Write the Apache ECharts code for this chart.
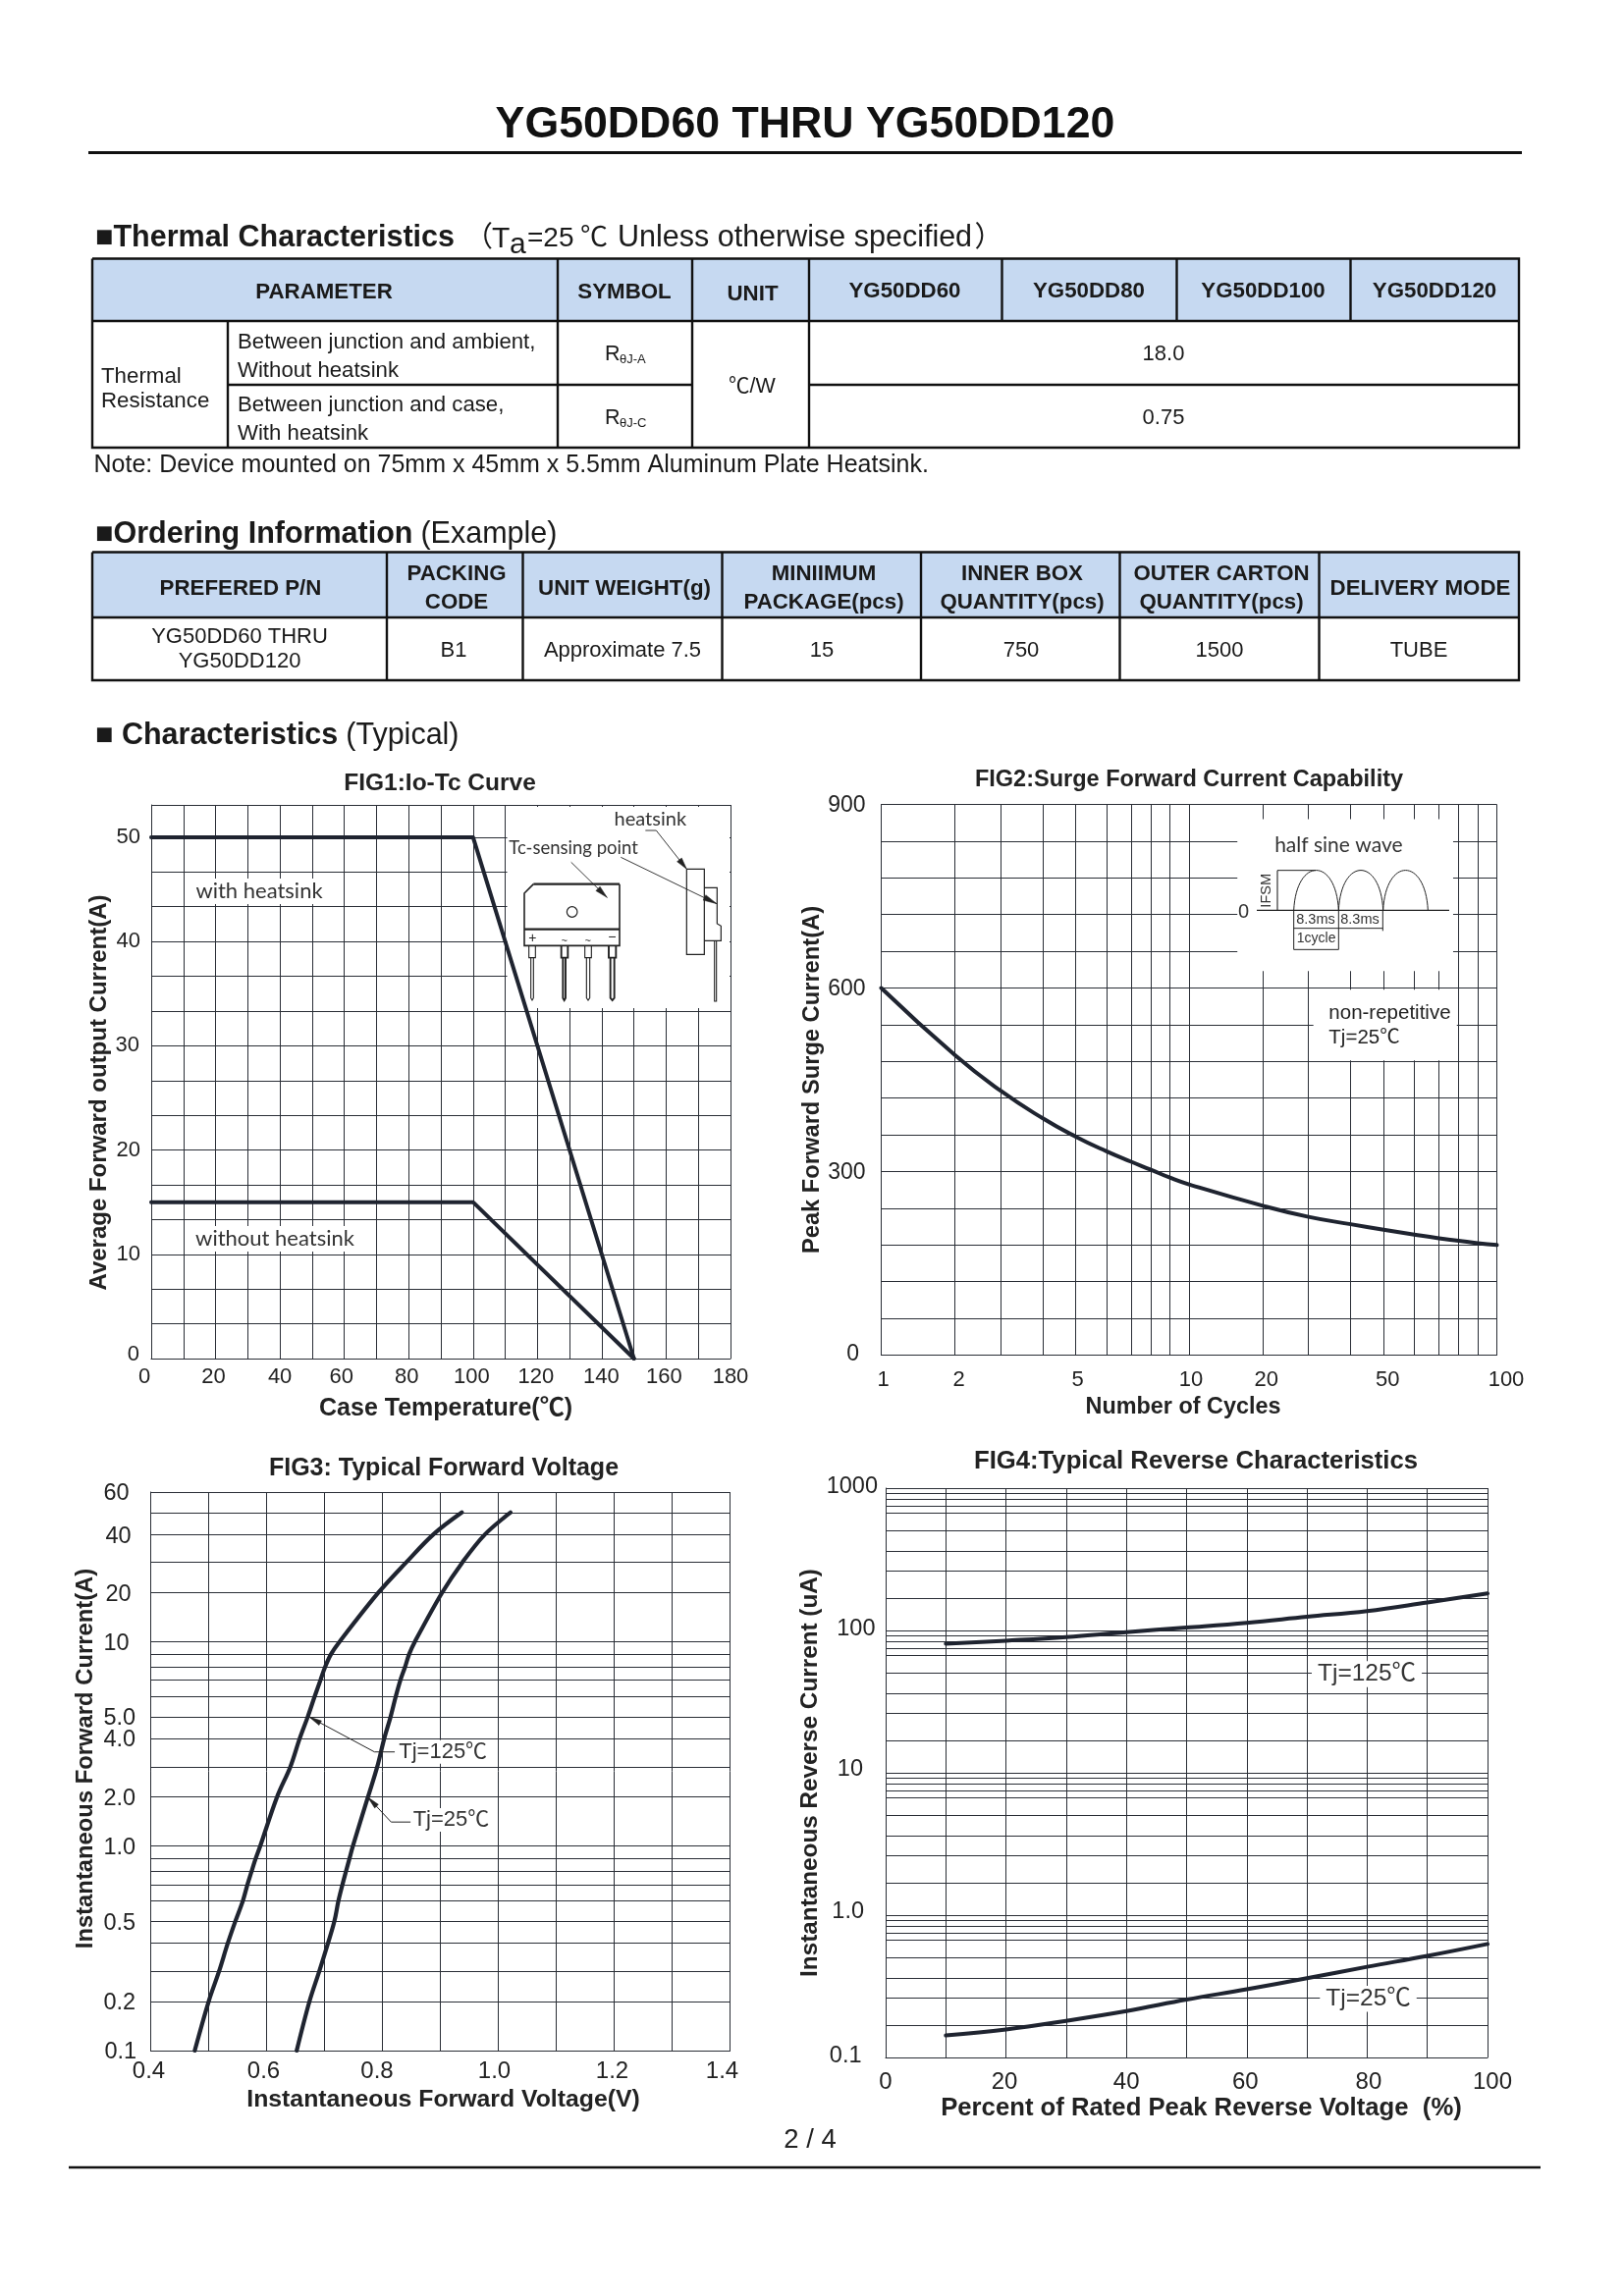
<!DOCTYPE html>
<html><head><meta charset="utf-8">
<style>html,body{margin:0;padding:0;background:#fff}#c{width:1654px;height:2339px}</style>
<script src="https://cdn.jsdelivr.net/npm/echarts@6/dist/echarts.min.js"></script>
</head><body><div id="c"></div>
<script>
// ---------- DATA ----------
const pageTitle = 'YG50DD60 THRU YG50DD120';
const thermalHeader = ['PARAMETER','SYMBOL','UNIT','YG50DD60','YG50DD80','YG50DD100','YG50DD120'];
const thermalRows = ['Between junction and ambient,','Without heatsink','Between junction and case,','With heatsink'];
const thermalValues = ['18.0','0.75'];
const orderingHeader = [['PREFERED P/N'],['PACKING','CODE'],['UNIT WEIGHT(g)'],['MINIIMUM','PACKAGE(pcs)'],['INNER BOX','QUANTITY(pcs)'],['OUTER CARTON','QUANTITY(pcs)'],['DELIVERY MODE']];
const orderingRow = [['YG50DD60 THRU','YG50DD120'],['B1'],['Approximate 7.5'],['15'],['750'],['1500'],['TUBE']];

// FIG1
const fig1Temp = [0,100,150];
const fig1WithHeatsink = [50,50,0];
const fig1WithoutHeatsink = [15,15,0];
const fig1TempTicks = [0,10,20,30,40,50,60,70,80,90,100,110,120,130,140,150,160,170,180];
const fig1TempLabels = [0,20,40,60,80,100,120,140,160,180];
const fig1CurrentLabels = [0,10,20,30,40,50];
// FIG2
const fig2Cycles = [1,2,3,4,5,6,7,8,9,10,20,30,40,50,60,70,80,90,100];
const fig2Surge = [600,490,432,387,357,333,316,303,290,279,244,226,214,205,197,191,187,183,180];
const fig2CycleLabels = [1,2,5,10,20,50,100];
const fig2SurgeLabels = [0,300,600,900];
// FIG3
const fig3Current = [0.1,0.2,0.3,0.4,0.5,0.6,0.7,0.8,0.9,1,2,3,4,5,6,7,8,9,10,20,30,40,50];
const fig3V125 = [.476,.500,.518,.533,.546,.559,.567,.574,.581,.589,.618,.641,.657,.671,.683,.693,.701,.711,.726,.793,.841,.888,.937];
const fig3V25 = [.652,.674,.691,.706,.717,.724,.731,.737,.743,.749,.775,.791,.803,.814,.823,.831,.839,.846,.856,.903,.938,.977,1.021];
const fig3CurrentTicks = [0.1,0.2,0.3,0.4,0.5,0.6,0.7,0.8,0.9,1,2,3,4,5,6,7,8,9,10,20,30,40,50,60];
const fig3CurrentLabels = ['0.1','0.2','0.5','1.0','2.0','4.0','5.0','10','20','40','60'];
const fig3VoltLabels = ['0.4','0.6','0.8','1.0','1.2','1.4'];
// FIG4
const fig4Percent = [10,20,30,40,50,60,70,80,90,100];
const fig4I125 = [77,82,88,97,109,124,143,161,188,219];
const fig4I25 = [.169,.188,.2175,.253,.295,.345,.4,.456,.511,.578];
const fig4CurrentTicks = [.1,.2,.3,.4,.5,.6,.7,.8,.9,1,2,3,4,5,6,7,8,9,10,20,30,40,50,60,70,80,90,100,200,300,400,500,600,700,800,900,1000];
const fig4CurrentLabels = ['0.1','1.0','10','100','1000'];
const fig4PercentLabels = [0,20,40,60,80,100];

// The printed "log" axes are not true logs: each decade's lines sit at these fractions.
const decadeFractionsA = [0,.24,.388,.525,.632,.732,.812,.876,.938,1]; // FIG2, FIG3
const decadeFractionsB = [0,.224,.416,.557,.70,.825,.876,.92,.962,1];   // FIG4
function warp(v, fr, firstExp){
  const e = Math.floor(Math.log10(v)+1e-9);
  const m = +(v/Math.pow(10,e)).toFixed(6);
  const i = Math.min(Math.floor(m),9);
  const f = fr[i-1]+(fr[i]-fr[i-1])*(m-i);
  return e-firstExp+f;
}

// ---------- STYLE ----------
const FF = "'Liberation Sans','Noto Sans CJK SC',sans-serif";
const INK = '#1f2430', GRID = '#2a2e36', HEAD = '#C6D9F1', SANS2 = "Lato,'Liberation Sans',sans-serif";
const g = [];
function txt(t,x,y,o={}){
  g.push({type:'text',z:o.z||20,silent:true,rotation:o.rot||0,x:x,y:y,style:{text:t,x:0,y:0,
    font:(o.b?'bold ':'')+(o.s||21)+'px '+(o.f||FF),fill:o.c||'#1a1a1a',align:o.a||'center',verticalAlign:'middle',
    backgroundColor:o.bg,padding:o.pad}});
}
function line(pts,w=1,c='#111',z=20){ g.push({type:'polyline',z:z,silent:true,shape:{points:pts},style:{stroke:c,lineWidth:w,fill:null}}); }
function fillPoly(pts,c='#111',z=20){ g.push({type:'polygon',z:z,silent:true,shape:{points:pts},style:{fill:c,stroke:c,lineWidth:.5}}); }
function arrow(x0,y0,x1,y1,len=10,hw=2.4,c='#222'){
  const d=Math.hypot(x1-x0,y1-y0),ux=(x1-x0)/d,uy=(y1-y0)/d;
  const bx=x1-ux*len,by=y1-uy*len;
  fillPoly([[x1,y1],[bx-uy*hw,by+ux*hw],[bx+uy*hw,by-ux*hw]],c,21);
}

// ---- page furniture ----
txt(pageTitle,820,127.5,{b:1,s:44.7,c:'#111'});
line([[90,155.5],[1550,155.5]],3);
line([[70,2208],[1569,2208]],2.5);
txt('2 / 4',825,2180.5,{s:27.5,c:'#222'});

// ---- thermal table ----
txt('■Thermal Characteristics',97,243,{b:1,s:30.5,a:'left'});
txt('（',473,243,{s:29,a:'left'});
txt('T',501,244,{s:30,a:'left'});
txt('a',519,250,{s:30,a:'left'});
txt('=25',537,243,{s:28,a:'left'});
txt('℃',591,243,{s:28,a:'left'});
txt('Unless otherwise specified',629,243,{s:30.5,a:'left'});
txt('）',992.5,243,{s:29,a:'left'});
const T1 = {l:94,r:1547,t:263.5,h:327,m:392,b:456};
g.push({type:'rect',z:5,silent:true,shape:{x:T1.l,y:T1.t,width:T1.r-T1.l,height:T1.h-T1.t},style:{fill:HEAD}});
line([[T1.l,T1.t],[T1.r,T1.t],[T1.r,T1.b],[T1.l,T1.b],[T1.l,T1.t]],2.4);
line([[T1.l,T1.h],[T1.r,T1.h]],2.4);
line([[232,T1.m],[705,T1.m]],2.4); line([[824,T1.m],[T1.r,T1.m]],2.4);
line([[232,T1.h],[232,T1.b]],2.4);
[568,705,824].forEach(x=>line([[x,T1.t],[x,T1.b]],2.4));
[1020.5,1198.5,1375.5].forEach(x=>line([[x,T1.t],[x,T1.h]],2.4));
[330,636,766.5,921.5,1109,1286.5,1461].forEach((x,i)=>txt(thermalHeader[i],x,i==2?299.5:(i>2?296.5:297.5),{b:1,s:22.3}));
txt('Thermal',103,383.5,{a:'left',s:22.3}); txt('Resistance',103,408.5,{a:'left',s:22.3});
[349,378,413,441.5].forEach((y,i)=>txt(thermalRows[i],242,y,{a:'left',s:22.2}));
txt('R',616,361.5,{a:'left',s:21.5}); txt('θJ-A',631,366.5,{a:'left',s:13});
txt('R',616,426.5,{a:'left',s:21.5}); txt('θJ-C',631,431.5,{a:'left',s:13});
txt('℃/W',766,394.5,{s:21.5});
txt(thermalValues[0],1185,360.5,{s:22}); txt(thermalValues[1],1185,425.5,{s:22});
txt('Note: Device mounted on 75mm x 45mm x 5.5mm Aluminum Plate Heatsink.',95.5,474,{a:'left',s:25});

// ---- ordering table ----
g.push({type:'text',z:20,silent:true,style:{text:'{b|■Ordering Information}{r|(Example)}',x:97,y:545,verticalAlign:'middle',
  rich:{b:{font:'bold 30.5px '+FF,fill:'#1a1a1a'},r:{font:'30.5px '+FF,fill:'#1a1a1a',padding:[0,0,0,8]}}}});
const T2 = {l:94,r:1547,t:562.5,h:629,b:693,cols:[394,532.5,735.5,938,1140.5,1343.5]};
g.push({type:'rect',z:5,silent:true,shape:{x:T2.l,y:T2.t,width:T2.r-T2.l,height:T2.h-T2.t},style:{fill:HEAD}});
line([[T2.l,T2.t],[T2.r,T2.t],[T2.r,T2.b],[T2.l,T2.b],[T2.l,T2.t]],2.4);
line([[T2.l,T2.h],[T2.r,T2.h]],2.4);
T2.cols.forEach(x=>line([[x,T2.t],[x,T2.b]],2.4));
[245,465,636,839,1041,1244,1446.5].forEach((x,i)=>{
  const h=orderingHeader[i];
  if(h.length==1) txt(h[0],x,599.5,{b:1,s:22.3});
  else { txt(h[0],x,584.5,{b:1,s:22.3}); txt(h[1],x,614,{b:1,s:22.3}); }
});
[244,462,634,837,1040,1242,1445].forEach((x,i)=>{
  const h=orderingRow[i];
  if(h.length==1) txt(h[0],x,662.5,{s:22});
  else { txt(h[0],x,649,{s:22}); txt(h[1],x,674,{s:22}); }
});
g.push({type:'text',z:20,silent:true,style:{text:'{b|■ Characteristics}{r|(Typical)}',x:97,y:749.5,verticalAlign:'middle',
  rich:{b:{font:'bold 30.5px '+FF,fill:'#1a1a1a'},r:{font:'30.5px '+FF,fill:'#1a1a1a',padding:[0,0,0,8]}}}});

// ---- FIG1 inset ----
const P1=(x,y)=>[500+x/3,810+y/3];
const L1=(a,w=1.2,c='#222')=>line(a.map(p=>P1(p[0],p[1])),w,c);
L1([[130,272],[393,272]],2.2);
L1([[130,272],[102,300],[102,460],[393,460],[393,272]],1.6);
L1([[102,410],[393,410]],2.4);
g.push({type:'circle',z:20,silent:true,shape:{cx:P1(248,0)[0],cy:P1(0,357)[1],r:5.3},style:{fill:null,stroke:'#222',lineWidth:1.2}});
[[116,136,122,130],[215,235,220,228],[287,307,292,302],[360,382,365,377]].forEach((a,i)=>{
  const w=i==0||i==2?1.1:1.9;
  L1([[a[0],460],[a[0],497],[a[1],497],[a[1],460]],w);
  L1([[a[2],497],[a[2],620],[(a[2]+a[3])/2,627],[a[3],620],[a[3],497]],w);
});
txt('+',P1(127,0)[0],P1(0,437)[1],{s:14,c:'#222'});
txt('~',P1(224,0)[0],P1(0,447)[1],{s:11,c:'#222'});
txt('~',P1(296,0)[0],P1(0,447)[1],{s:11,c:'#222'});
txt('−',P1(370,0)[0],P1(0,436)[1],{s:14,c:'#222'});
L1([[598,226],[652,226],[652,487],[598,487],[598,226]],1.2);
L1([[652,283],[691,283],[691,393],[703,400],[703,445],[652,445]],1.2);
L1([[683,445],[683,630],[689,630],[689,445]],1.1);
L1([[472,108],[505,108],[598,226]],.9);
arrow(...P1(572,193),...P1(598,226),12,3);
L1([[397,190],[690,332]],.9);
arrow(...P1(650,312),...P1(690,332),14,3);
L1([[245,205],[355,313]],.9);
arrow(...P1(322,281),...P1(355,313),13,3);
txt('heatsink',P1(487,0)[0],P1(0,73)[1],{s:20,f:SANS2,c:'#333'});
txt('Tc-sensing point',P1(252,0)[0],P1(0,163)[1],{s:18.5,f:SANS2,c:'#333'});

// ---- FIG2 inset ----
const P2=(x,y)=>[1240+x/3,830+y/3];
const L2=(a,w=1,c='#222')=>line(a.map(p=>P2(p[0],p[1])),w,c);
L2([[120,292],[708,292]],1.1);
[[233,370],[370,506],[506,643]].forEach(a=>{
  const s=P2(a[0],292),e=P2(a[1],292),c1=P2(a[0]+8,129),c2=P2(a[1]-8,129);
  g.push({type:'bezierCurve',z:20,silent:true,shape:{x1:s[0],y1:s[1],x2:e[0],y2:e[1],cpx1:c1[0],cpy1:c1[1],cpx2:c2[0],cpy2:c2[1]},style:{stroke:'#222',lineWidth:1,fill:null}});
});
L2([[183,170],[300,170]]);
L2([[183,170],[183,292]],1.1);
L2([[233,292],[233,412]]); L2([[370,292],[370,412]]); L2([[505,292],[505,355]]);
L2([[233,347],[505,347]]); L2([[233,412],[370,412]]);
txt('half sine wave',P2(370,0)[0],P2(0,95)[1],{s:21,f:SANS2,c:'#333'});
txt('0',P2(80,0)[0],P2(0,298)[1],{s:20,c:'#333'});
txt('IFSM',P2(150,0)[0],P2(0,232)[1],{s:14.5,rot:Math.PI/2,c:'#333'});
txt('8.3ms',P2(300,0)[0],P2(0,322)[1],{s:14.5,c:'#333'});
txt('8.3ms',P2(435,0)[0],P2(0,322)[1],{s:14.5,c:'#333'});
txt('1cycle',P2(302,0)[0],P2(0,377)[1],{s:14,c:'#333'});
txt('non-repetitive',P2(340,0)[0],P2(0,607)[1],{a:'left',s:20.5,c:'#222'});
txt('Tj=25℃',P2(340,0)[0],P2(0,683)[1],{a:'left',s:20.5,c:'#222'});

// ---- chart annotations ----
txt('with heatsink',264,908,{s:22,f:SANS2,c:'#333',bg:'#fff',pad:[2,4,2,4]});
txt('without heatsink',280,1262,{s:22,f:SANS2,c:'#333',bg:'#fff',pad:[2,4,2,4]});
const P3=(x,y)=>[60+x/2.178,1470+y/2.24];
txt('Tj=125℃',...P3(852,705),{s:22,c:'#333',bg:'#fff',pad:[1,2,1,2]});
txt('Tj=25℃',...P3(870,860),{s:22,c:'#333',bg:'#fff',pad:[1,2,1,2]});
line([P3(745,705),P3(700,705),P3(555,625)],1,'#222',21);
arrow(...P3(590,645),...P3(555,625),13,2.6);
line([P3(780,865),P3(737,865),P3(685,808)],1,'#222',21);
arrow(...P3(713,838),...P3(685,808),13,2.6);
const P4=(x,y)=>[800+x/2.01,1470+y/2.063];
txt('Tj=125℃',...P4(1190,486),{s:24.5,c:'#333',bg:'#fff',pad:[1,6,1,6]});
txt('Tj=25℃',...P4(1193,1168),{s:24.5,c:'#333',bg:'#fff',pad:[1,6,1,6]});

// ---------- axes helpers ----------
function labels(values,texts,opt){
  const n=opt.nudge||[], rich={};
  values.forEach((v,i)=>{
    const d=n[i]||[0,0], dx=d[0], dy=d[1]||0, k=opt.anchor==='center'?2:1;
    rich['n'+i]={fontSize:opt.size,fontFamily:FF,color:'#222',
      padding:[Math.max(0,2*dy),Math.max(0,-dx*k),Math.max(0,-2*dy),Math.max(0,dx*k)]};
  });
  return {show:true,customValues:values,margin:opt.margin,align:opt.align,hideOverlap:false,showMinLabel:true,showMaxLabel:true,
    formatter:v=>{let b=0;values.forEach((w,i)=>{if(Math.abs(w-v)<Math.abs(values[b]-v))b=i;});return `{n${b}|${texts[b]}}`;},rich};
}
const gridLine={show:true,lineStyle:{color:GRID,width:1,type:'solid'}};
function axis(o){
  return {type:'value',gridIndex:o.idx,min:o.min,max:o.max,silent:true,
    axisLine:{show:true,onZero:false,lineStyle:{color:GRID,width:1}},
    axisTick:{show:false,customValues:o.ticks},
    splitLine:gridLine,minorTick:{show:false},
    axisLabel:labels(o.lv,o.lt,o.l),
    name:o.name,nameLocation:'middle',nameGap:o.gap,nameRotate:o.rot||0,
    nameTextStyle:{fontFamily:FF,fontWeight:'bold',fontSize:o.ns||23,color:'#222',padding:o.pad||0}};
}
const curve=(name,idx,data,w=4,smooth=false)=>({type:'line',name,xAxisIndex:idx,yAxisIndex:idx,data,showSymbol:false,symbol:'none',smooth,z:5,silent:true,
  lineStyle:{color:INK,width:w,cap:'round',join:'round'}});
const mask=(idx,areas)=>({type:'line',name:'mask'+idx,xAxisIndex:idx,yAxisIndex:idx,data:[],z:1,silent:true,symbol:'none',
  markArea:{silent:true,itemStyle:{color:'#fff',borderWidth:0},data:areas.map(a=>[{coord:[a[0],a[2]]},{coord:[a[1],a[3]]}])}});

const posA2=v=>warp(v,decadeFractionsA,0);
const posA3=v=>warp(v,decadeFractionsA,-1);
const posB4=v=>warp(v,decadeFractionsB,-1);
const fig1CurrentTicks=[];for(let i=0;i<=15;i++)fig1CurrentTicks.push(i*10/3);fig1CurrentTicks.push(53.1);
const fig2SurgeTicks=[];for(let i=0;i<=15;i++)fig2SurgeTicks.push(i*60);
const fig3VoltTicks=[.4,.5,.6,.7,.8,.9,1,1.1,1.2,1.3,1.4];
const fig4PercentTicks=[0,10,20,30,40,50,60,70,80,90,100];

const option={
  animation:false,backgroundColor:'#fff',
  title:[['FIG1:Io-Tc Curve',443,780.7,24.5],['FIG2:Surge Forward Current Capability',1206,778,23.5],['FIG3: Typical Forward Voltage',447,1478.5,25],['FIG4:Typical Reverse Characteristics',1213,1471,25.7]]
    .map(t=>({text:t[0],left:t[1],top:t[2],textAlign:'center',textStyle:{fontFamily:FF,fontWeight:'bold',fontSize:t[3],color:'#222'}})),
  grid:[
    {left:154,top:820,width:590,height:564},
    {left:897.5,top:819.5,width:627,height:561},
    {left:153.5,top:1520,width:590,height:569},
    {left:902,top:1516,width:613,height:580}
  ],
  xAxis:[
    axis({idx:0,min:0,max:180,ticks:fig1TempTicks,lv:fig1TempLabels,lt:fig1TempLabels,
      l:{size:22,margin:8,anchor:'center',nudge:[[-7],[-2],[0],[-3],[-2],[-1.5],[-1.5],[-.5],[-2],[0]]},
      name:'Case Temperature(℃)',gap:39,ns:25,pad:[0,0,0,10]}),
    axis({idx:1,min:0,max:2,ticks:fig2Cycles.map(posA2),lv:fig2CycleLabels.map(posA2),lt:fig2CycleLabels,
      l:{size:22,margin:14,anchor:'center',nudge:[[2],[4],[2],[2],[3.5],[4],[9.5]]},
      name:'Number of Cycles',gap:41,ns:23.4,pad:[0,12,0,0]}),
    axis({idx:2,min:.4,max:1.4,ticks:fig3VoltTicks,lv:[.4,.6,.8,1,1.2,1.4],lt:fig3VoltLabels,
      l:{size:24,margin:9,anchor:'center',nudge:[[-2],[-3],[-5.5],[-4],[-2],[-8]]},
      name:'Instantaneous Forward Voltage(V)',gap:37.5,ns:24.8,pad:[0,0,0,6]}),
    axis({idx:3,min:0,max:100,ticks:fig4PercentTicks,lv:fig4PercentLabels,lt:fig4PercentLabels,
      l:{size:24,margin:13,anchor:'center',nudge:[[0],[-1.5],[0],[-1.5],[1.5],[5]]},
      name:'Percent of Rated Peak Reverse Voltage  (%)',gap:39.5,ns:25.7,pad:[0,0,0,30]})
  ],
  yAxis:[
    axis({idx:0,min:0,max:53.1,ticks:fig1CurrentTicks,lv:fig1CurrentLabels,lt:fig1CurrentLabels,
      l:{size:22,margin:11,align:'right',nudge:[[-1,-4.5],[0],[0],[-1],[0],[0]]},
      name:'Average Forward output Current(A)',gap:41,rot:90,ns:24,pad:[0,22,0,0]}),
    axis({idx:1,min:0,max:900,ticks:fig2SurgeTicks,lv:fig2SurgeLabels,lt:fig2SurgeLabels,
      l:{size:23,margin:16,align:'right',nudge:[[-6.5,-.5],[4.5,1],[0,1],[0,1]]},
      name:'Peak Forward Surge Current(A)',gap:58,rot:90,ns:23.7}),
    axis({idx:2,min:0,max:posA3(60),ticks:fig3CurrentTicks.map(posA3),
      lv:[.1,.2,.5,1,2,4,5,10,20,40,60].map(posA3),lt:fig3CurrentLabels,
      l:{size:23.5,margin:48,align:'left',nudge:[[1,2],[0,2],[0,2],[0,2],[0,2],[-2,1],[-2,1],[0,2],[2,2],[2,2],[0,2]]},
      name:'Instantaneous Forward Current(A)',gap:54,rot:90,ns:23.8,pad:[0,0,0,26]}),
    axis({idx:3,min:0,max:4,ticks:fig4CurrentTicks.map(posB4),lv:[.1,1,10,100,1000].map(posB4),lt:fig4CurrentLabels,
      l:{size:23.5,margin:8,align:'right',nudge:[[-16.5,-1.5],[-14,-3.5],[-15,-3.5],[-2.5,-1.5],[0,-1.5]]},
      name:'Instantaneous Reverse Current (uA)',gap:63,rot:90,ns:24.3})
  ],
  series:[
    mask(0,[[110.6,179.7,33.6,52.9]]),
    curve('with heatsink',0,fig1Temp.map((t,i)=>[t,fig1WithHeatsink[i]])),
    curve('without heatsink',0,fig1Temp.map((t,i)=>[t,fig1WithoutHeatsink[i]])),
    mask(1,[[1.157,1.858,627.6,876],[1.404,1.87,481.5,597]]),
    curve('non-repetitive Tj=25℃',1,fig2Cycles.map((c,i)=>[posA2(c),fig2Surge[i]]),4,.5),
    curve('Tj=125℃',2,fig3Current.map((c,i)=>[fig3V125[i],posA3(c)]),4.2,.35),
    curve('Tj=25℃',2,fig3Current.map((c,i)=>[fig3V25[i],posA3(c)]),4.2,.35),
    curve('Tj=125℃',3,fig4Percent.map((p,i)=>[p,posB4(fig4I125[i])]),4,.4),
    curve('Tj=25℃',3,fig4Percent.map((p,i)=>[p,posB4(fig4I25[i])]),4,.4)
  ],
  graphic:{elements:g}
};
const chart=echarts.init(document.getElementById('c'),null,{renderer:'canvas',width:1654,height:2339});
chart.setOption(option);
</script></body></html>
